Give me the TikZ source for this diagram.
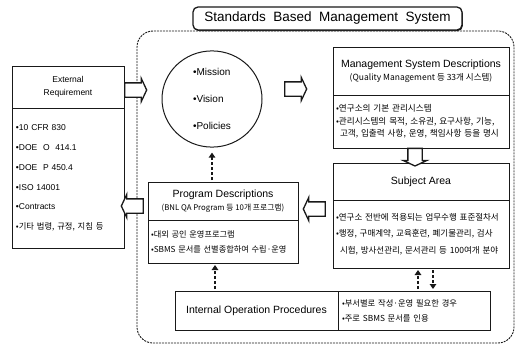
\documentclass[tikz,border=0pt]{standalone}
\usepackage{fontspec}
\setmainfont{Liberation Sans}
\newfontfamily\kr{Noto Sans CJK KR}
\usepackage{tikz}
\usetikzlibrary{arrows.meta,shapes,positioning,shadows}
\usepackage{xcolor}
\definecolor{sbink}{RGB}{25,25,25}
\tikzstyle{dotarrow} = [line width=2.6pt, dash pattern=on 2.6pt off 2.4pt, -{Triangle[length=5pt,width=6.5pt]}, color=sbink]
\tikzstyle{hdrbox} = [rectangle, draw=sbink, fill=white, line width=1pt, outer sep=0pt, inner sep=2pt, align=center, font=\fontsize{10.5}{13}\selectfont, drop shadow={shadow xshift=1.2pt, shadow yshift=-1.2pt, fill=sbink, opacity=1}]
\tikzstyle{bodybox} = [rectangle, draw=sbink, fill=white, line width=1pt, outer sep=0pt, inner sep=4pt, align=left, drop shadow={shadow xshift=1.2pt, shadow yshift=-1.2pt, fill=sbink, opacity=1}]
\tikzstyle{blockarrow} = [single arrow, draw=sbink, fill=white, line width=1.3pt, minimum height=22pt, minimum width=0pt, single arrow head extend=4.5pt, single arrow tip angle=130, inner sep=6.5pt, outer sep=0pt]

\begin{document}
\begin{tikzpicture}[x=1pt, y=-1pt]
\useasboundingbox (0,0) rectangle (517,346);
% Frame and title
\node[draw=sbink, line width=0.9pt, dash pattern=on 2pt off 1pt, rounded corners=16pt, minimum width=377pt, minimum height=312pt, outer sep=0pt] (frame) at (325.5,187) {};
\node[draw=sbink, fill=white, line width=1.3pt, rounded corners=5pt, minimum width=269pt, minimum height=23pt, font=\fontsize{13.5}{16}\selectfont, drop shadow={shadow xshift=0.8pt, shadow yshift=-1pt, fill=sbink, opacity=1}] (sbms) at (327.5,18.5) {Standards~ Based~ Management~ System};

% External requirement
\node[hdrbox, minimum width=112pt, minimum height=42pt, font=\fontsize{8.5}{13}\selectfont] (exth) at (68,87) {External\\Requirement};
\node[bodybox, minimum width=112pt, minimum height=140pt, text width=104pt, below=0pt of exth, font=\fontsize{8.5}{19.8}\selectfont] (extb) {•10 CFR 830\\•DOE~ O~ 414.1\\•DOE~ P 450.4\\•ISO 14001\\•Contracts\\{\kr\fontsize{8.3}{19.8}\selectfont •기타 법령, 규정, 지침 등}};

% Mission, vision, policies
\node[ellipse, draw=sbink, line width=1pt, minimum width=100pt, minimum height=82pt, align=left, font=\fontsize{10}{27}\selectfont] (mvp) at (212,99) {•Mission\\•Vision\\•Policies};

% Management system descriptions
\node[hdrbox, minimum width=176pt, minimum height=48pt] (msdh) at (421,71) {Management System Descriptions\\{\kr\fontsize{8.5}{13}\selectfont (Quality Management 등 33개 시스템)}};
\node[bodybox, minimum width=176pt, minimum height=53pt, text width=170pt, inner xsep=3pt, below=0pt of msdh, font=\kr\fontsize{8.6}{12.5}\selectfont] (msdb) {•연구소의 기본 관리시스템\\•관리시스템의 목적, 소유권, 요구사항, 기능,\\\hspace*{4pt}고객, 입출력 사항, 운영, 책임사항 등을 명시};

% Subject area
\node[hdrbox, minimum width=176pt, minimum height=37pt] (sah) at (421,181.5) {Subject Area};
\node[bodybox, minimum width=176pt, minimum height=68pt, text width=170pt, inner xsep=3pt, below=0pt of sah, font=\kr\fontsize{8.5}{16.5}\selectfont] (sab) {•연구소 전반에 적용되는 업무수행 표준절차서\\•행정, 구매계약, 교육훈련, 폐기물관리, 검사\\\hspace*{4pt}시험, 방사선관리, 문서관리 등 100여개 분야};

% Program descriptions
\node[hdrbox, minimum width=150pt, minimum height=38pt] (pdh) at (223,201) {Program Descriptions\\{\kr\fontsize{7.8}{13}\selectfont (BNL QA Program 등 10개 프로그램)}};
\node[bodybox, minimum width=150pt, minimum height=43pt, text width=144pt, inner xsep=3pt, below=0pt of pdh, font=\kr\fontsize{8.2}{15}\selectfont] (pdb) {•대외 공인 운영프로그램\\•SBMS 문서를 선별종합하여 수립·운영};

% Internal operation procedures
\node[hdrbox, minimum width=163pt, minimum height=39pt] (ioph) at (256.5,310.5) {Internal Operation Procedures};
\node[bodybox, minimum width=152pt, minimum height=39pt, text width=144pt, right=0pt of ioph, font=\kr\fontsize{8.3}{15}\selectfont] (iopb) {•부서별로 작성·운영 필요한 경우\\•주로 SBMS 문서를 인용};

% Block arrows
\node[blockarrow] (a1) at (134,90) {};
\node[blockarrow] (a2) at (294,89) {};
\node[blockarrow, minimum height=15pt, shape border rotate=270] (a3) at (415,155.5) {};
\node[blockarrow, shape border rotate=180] (a4) at (316,209) {};
\node[blockarrow, shape border rotate=180] (a5) at (134,206) {};

% Dotted links
\coordinate (d1) at ([xshift=-8pt]pdb.south);
\coordinate (d2) at ([xshift=-3pt]sab.south);
\coordinate (d3) at ([xshift=12pt]sab.south);
\draw[dotarrow, shorten >=5pt, shorten <=2pt] (pdh.north -| mvp.south) -- (mvp.south);
\draw[dotarrow, shorten >=2pt, shorten <=2pt] (d1 |- ioph.north) -- (d1);
\draw[dotarrow, shorten >=2pt, shorten <=2pt] (d2 |- iopb.north) -- (d2);
\draw[dotarrow, shorten >=2pt, shorten <=2pt] (d3) -- (d3 |- iopb.north);
\end{tikzpicture}
\end{document}
